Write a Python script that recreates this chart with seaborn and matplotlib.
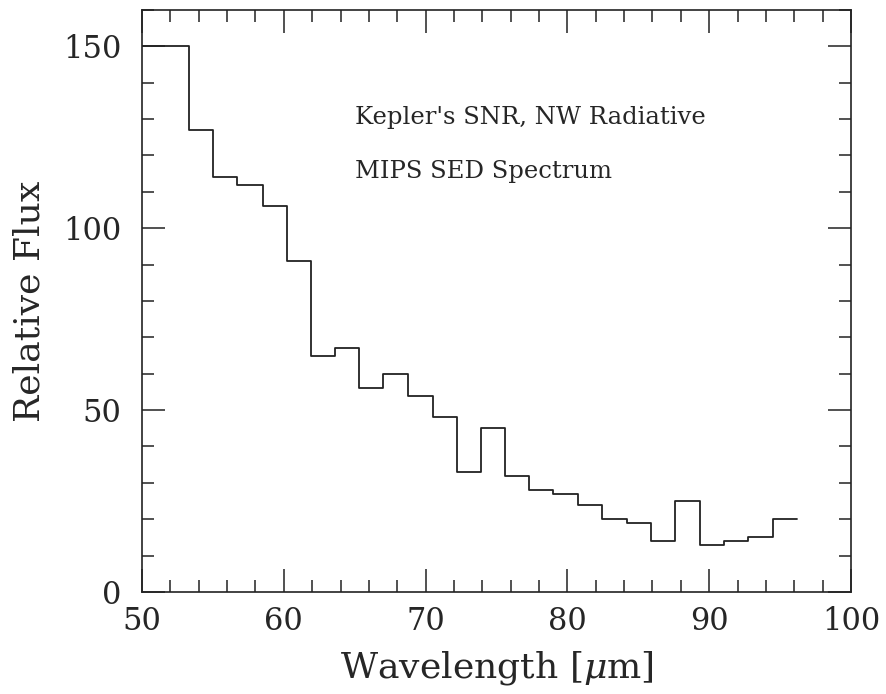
import matplotlib
matplotlib.use("Agg")
import matplotlib.pyplot as plt
import seaborn as sns
import pandas as pd
from matplotlib.ticker import MultipleLocator

# bin edges (micron) and flux per bin
bin_edges = [50.0, 53.34, 55.03, 56.72, 58.55, 60.25, 61.92, 63.61, 65.32, 67.02,
             68.78, 70.50, 72.19, 73.89, 75.60, 77.29, 79.01, 80.75, 82.46, 84.18,
             85.90, 87.59, 89.35, 91.04, 92.76, 94.48, 96.17]
flux = [150, 127, 114, 112, 106, 91, 65, 67, 56, 60,
        54, 48, 33, 45, 32, 28, 27, 24, 20, 19,
        14, 25, 13, 14, 15, 20]
notes = ["Kepler's SNR, NW Radiative", "MIPS SED Spectrum"]

sns.set_style("ticks")
plt.rcParams['font.family'] = ['DejaVu Serif']
plt.rcParams['mathtext.fontset'] = 'dejavuserif'

# step-post needs one extra y value to close the last bin
df = pd.DataFrame({"wavelength": bin_edges, "flux": flux + [flux[-1]]})

fig = plt.figure(figsize=(8.87, 6.94), dpi=100)
ax = fig.add_axes([0.1601, 0.147, 0.7993, 0.8386])

sns.lineplot(data=df, x="wavelength", y="flux", drawstyle="steps-post",
             color="#222222", linewidth=1.3, estimator=None, ax=ax)

ax.set_xlim(50, 100)
ax.set_ylim(0, 160)
ax.xaxis.set_major_locator(MultipleLocator(10))
ax.xaxis.set_minor_locator(MultipleLocator(2))
ax.yaxis.set_major_locator(MultipleLocator(50))
ax.yaxis.set_minor_locator(MultipleLocator(10))
ax.tick_params(which="both", direction="in", top=True, right=True,
               width=1.1, color="#222222")
ax.tick_params(which="major", length=16.5)
ax.tick_params(which="minor", length=8.5)
ax.tick_params(axis="x", which="major", labelsize=22, pad=10)
ax.tick_params(axis="y", which="major", labelsize=22, pad=15)
for sp in ax.spines.values():
    sp.set_linewidth(1.2)
    sp.set_color("#222222")

ax.set_xlabel(r"Wavelength [$\mu$m]", fontsize=26, labelpad=9)
ax.set_ylabel("Relative Flux", fontsize=26, labelpad=12)

ax.text(65.0, 130.5, notes[0], fontsize=17.5, va="center", ha="left")
ax.text(65.0, 115.6, notes[1], fontsize=17.5, va="center", ha="left")

fig.savefig("out.png", dpi=100)
plt.close(fig)
